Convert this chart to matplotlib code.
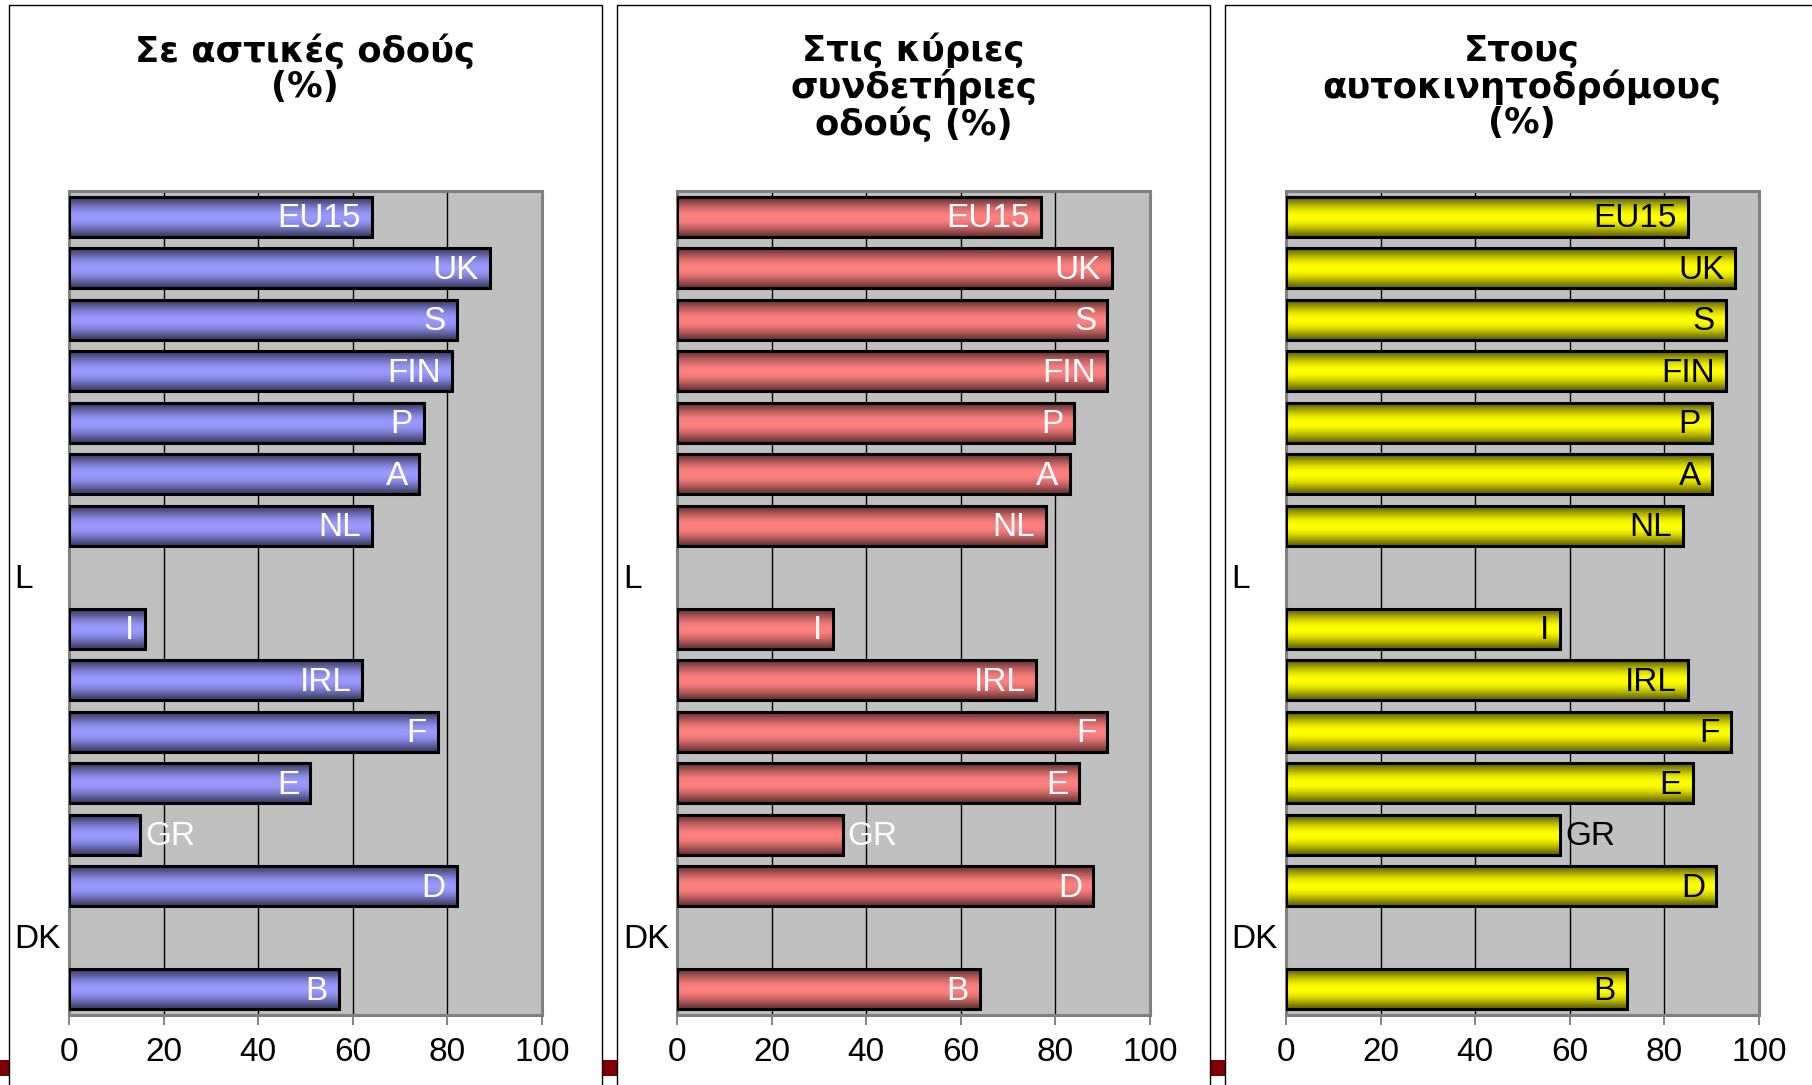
import numpy as np
import matplotlib
matplotlib.use("Agg")
import matplotlib.pyplot as plt
import matplotlib.transforms as mtransforms
from matplotlib.patches import Rectangle
from matplotlib.colors import LinearSegmentedColormap

# ---------------- data ----------------
countries = ["EU15", "UK", "S", "FIN", "P", "A", "NL", "L",
             "I", "IRL", "F", "E", "GR", "D", "DK", "B"]
urban_roads = [64, 89, 82, 81, 75, 74, 64, None, 16, 62, 78, 51, 15, 82, None, 57]
main_roads = [77, 92, 91, 91, 84, 83, 78, None, 33, 76, 91, 85, 35, 88, None, 64]
motorways = [85, 95, 93, 93, 90, 90, 84, None, 58, 85, 94, 86, 58, 91, None, 72]
titles = ["Σε αστικές οδούς\n(%)",
          "Στις κύριες\nσυνδετήριες\nοδούς (%)",
          "Στους\nαυτοκινητοδρόμους\n(%)"]
xticks = [0, 20, 40, 60, 80, 100]
outside_labels = ["GR"]

series = [urban_roads, main_roads, motorways]
bright = ["#9999FF", "#FF8080", "#FFFF00"]
dark = ["#3E3E66", "#6B3535", "#666600"]
label_colors = ["white", "white", "black"]

# ---------------- layout ----------------
W, H = 1812, 1085
fig = plt.figure(figsize=(W / 100, H / 100), dpi=100)
fig.patch.set_facecolor("white")

panel_left = [8.5, 617, 1225]
panel_right = [602, 1210, 1840]
axes_left = [69, 677, 1286]
axes_w = 473
axes_top, axes_bottom = 191, 1015
FS = 24

# dark red strip behind panels
fig.patches.append(Rectangle((0, 9 / H), 1, 16 / H, transform=fig.transFigure,
                             facecolor="#800000", edgecolor="none", zorder=0))
for l, r in zip(panel_left, panel_right):
    fig.patches.append(Rectangle((l / W, -0.05), (r - l) / W, (H - 4.5) / H + 0.05,
                                 transform=fig.transFigure, facecolor="white",
                                 edgecolor="black", linewidth=1.0, zorder=1))

bar_h = 0.77
y = np.arange(len(countries))
tprof = np.linspace(0, 1, 200)
prof = np.clip(np.sin(np.pi * (tprof * 1.04 - 0.02)), 0, 1) ** 1.2
grad = prof.reshape(-1, 1)

for k in range(3):
    vals = series[k]
    ax = fig.add_axes([axes_left[k] / W, 1 - axes_bottom / H,
                       axes_w / W, (axes_bottom - axes_top) / H])
    ax.set_zorder(3)
    ax.set_facecolor("#C0C0C0")
    cmap = LinearSegmentedColormap.from_list("g%d" % k, [dark[k], bright[k]])

    vv = [v if v is not None else 0 for v in vals]
    bars = ax.barh(y, vv, height=bar_h, fill=False, edgecolor="black",
                   linewidth=2.2, zorder=4)
    for b, v in zip(bars, vals):
        if v is None:
            b.set_visible(False)
            continue
        x0, y0 = b.get_x(), b.get_y()
        ax.imshow(grad, extent=(x0, x0 + b.get_width(), y0 + b.get_height(), y0),
                  aspect="auto", cmap=cmap, vmin=0, vmax=1,
                  interpolation="bilinear", zorder=3)

    ax.set_xlim(0, 100)
    ax.set_ylim(len(countries) - 0.5, -0.5)
    ax.set_xticks(xticks)
    ax.set_xticklabels([str(t) for t in xticks], fontfamily="Liberation Sans",
                       fontsize=FS)
    ax.set_yticks([])
    ax.tick_params(axis="x", direction="out", length=7, width=1.2,
                   color="#707070", pad=9)
    ax.set_axisbelow(True)
    ax.xaxis.grid(True, color="black", linewidth=1.0)
    for s in ax.spines.values():
        s.set_color("#808080")
        s.set_linewidth(2.2)

    trans = mtransforms.blended_transform_factory(fig.transFigure, ax.transData)
    for i, (c, v) in enumerate(zip(countries, vals)):
        if v is None:
            ax.text((panel_left[k] + 6) / W, i + 0.04, c, transform=trans, ha="left",
                    va="center", fontfamily="Liberation Sans", fontsize=FS,
                    color="black", clip_on=False)
        elif c in outside_labels:
            ax.annotate(c, xy=(v, i), xytext=(5, -2), textcoords="offset pixels",
                        ha="left", va="center", fontfamily="Liberation Sans",
                        fontsize=FS, color=label_colors[k], zorder=6)
        else:
            ax.annotate(c, xy=(v, i), xytext=(-11, -2), textcoords="offset pixels",
                        ha="right", va="center", fontfamily="Liberation Sans",
                        fontsize=FS, color=label_colors[k], zorder=6)

    cx = (panel_left[k] + panel_right[k]) / 2 / W
    if k == 2:
        cx = 1522 / W
    nlines = titles[k].count("\n") + 1
    cy_px = 51 + (nlines - 1) * 36 / 2
    fig.text(cx, 1 - cy_px / H, titles[k], ha="center", va="center",
             fontfamily="DejaVu Sans", fontweight="bold", fontsize=25.5,
             linespacing=1.05, zorder=5)

fig.savefig("out.png", dpi=100)
